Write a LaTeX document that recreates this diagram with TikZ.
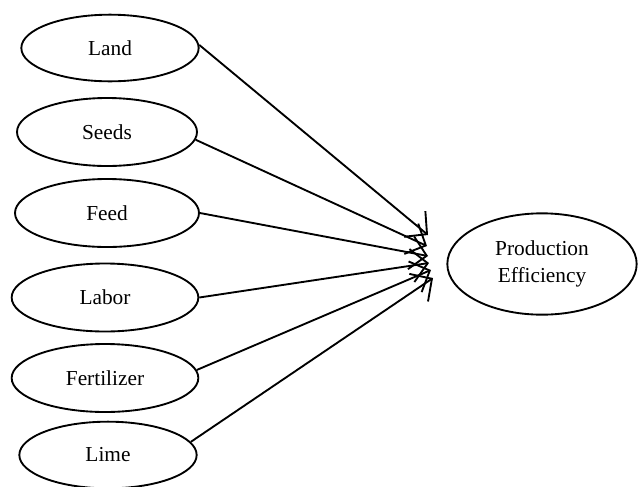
\documentclass[tikz,border=0pt]{standalone}
\usepackage{fontspec}
\setmainfont{Liberation Serif}
\newfontfamily\timesfont{Liberation Serif}
\usetikzlibrary{shapes.geometric,arrows.meta}
\tikzset{input/.style = {draw, ellipse, inner sep=0pt, minimum width=138pt, minimum height=51pt,
    font=\timesfont\fontsize{16}{20.5}\selectfont},
  barb/.style = {-{Straight Barb[length=12pt, width=25pt]}}}

\begin{document}
\begin{tikzpicture}[x=.75pt, y=-.75pt, line width=1.4pt]
      \useasboundingbox (0,0) rectangle (638,486);
      \node[input, minimum width=133pt, minimum height=50pt] (land) at (110,48) {Land};
      \node[input, minimum width=135pt] (seeds) at (107,132) {Seeds};
      \node[input] (feed) at (107,213) {Feed};
      \node[input, minimum width=140pt] (labor) at (105,297.5) {Labor};
      \node[input, minimum width=140pt] (fert) at (105,378) {Fertilizer};
      \node[input, minimum width=133pt, minimum height=50pt] (lime) at (108,455) {Lime};
      \node[input, minimum width=142pt, minimum height=76pt, align=center] (eff) at (542,264)
        {Production\\Efficiency};
      \coordinate (t1) at (428,235);
      \coordinate (t2) at (427,246);
      \coordinate (t3) at (428,256);
      \coordinate (t4) at (429,263);
      \coordinate (t5) at (431,270);
      \coordinate (t6) at (433,278);
      \foreach \src/\tip in {land.2/t1, seeds.-5/t2, feed.0/t3, labor.0/t4, fert.5/t5, lime.9/t6}
        \draw[barb] (\src) -- (\tip);
\end{tikzpicture}
\end{document}
